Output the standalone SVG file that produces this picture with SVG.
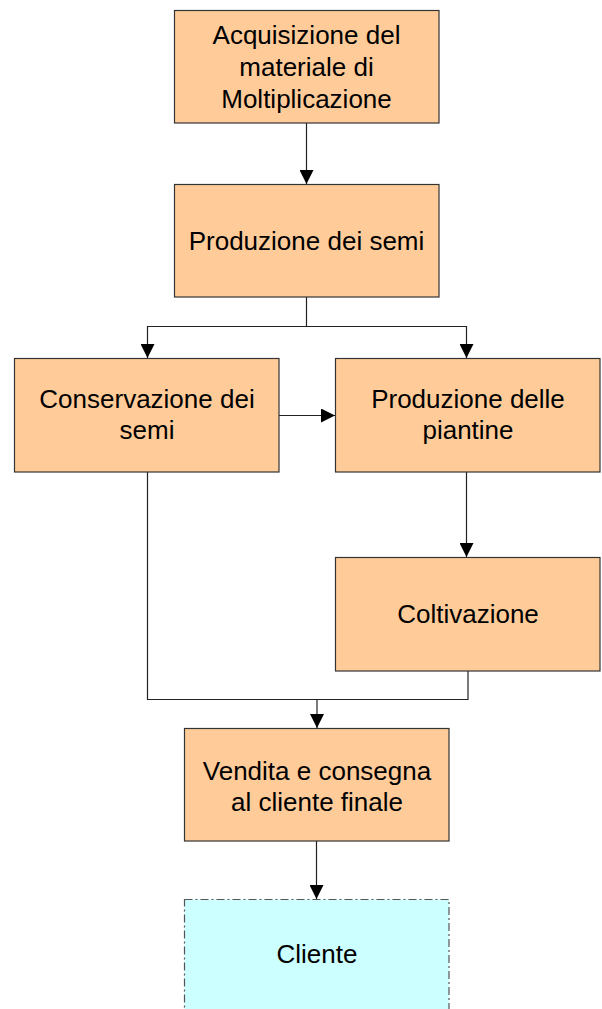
<svg xmlns="http://www.w3.org/2000/svg" width="602" height="1009" viewBox="0 0 602 1009">
<style>
.box{fill:#FFCC99;stroke:#333333;stroke-width:1.2}
.client{fill:#CCFFFF;stroke:#555555;stroke-width:1.2;stroke-dasharray:8,3,2,3}
text{font-family:"Liberation Sans",Arial,sans-serif;font-size:26px;fill:#000;text-anchor:middle}
.conn{fill:none;stroke:#222222;stroke-width:1.2}
</style>
<defs>
<marker id="ah" markerUnits="userSpaceOnUse" markerWidth="14" markerHeight="14" viewBox="0 0 14 14" refX="14" refY="7" orient="auto">
<path d="M0,0 L14,7 L0,14 Z" fill="#000"/>
</marker>
</defs>
<g id="connectors">
<path class="conn" d="M306.5,123 V184" marker-end="url(#ah)"/>
<path class="conn" d="M306.5,297 V326.5 H147.5 V358" marker-end="url(#ah)"/>
<path class="conn" d="M306.5,326.5 H466.5 V358" marker-end="url(#ah)"/>
<path class="conn" d="M279,415.5 H335" marker-end="url(#ah)"/>
<path class="conn" d="M466.5,472 V557" marker-end="url(#ah)"/>
<path class="conn" d="M147.5,472 V699.5 H468 V671"/>
<path class="conn" d="M317,699.5 V728" marker-end="url(#ah)"/>
<path class="conn" d="M316.5,841 V899" marker-end="url(#ah)"/>
</g>
<g id="acquisizione">
<rect class="box" x="174.5" y="10.5" width="264.5" height="112.5"/>
<text x="306.5" y="44">Acquisizione del</text>
<text x="306.5" y="76">materiale di</text>
<text x="306.5" y="108">Moltiplicazione</text>
</g>
<g id="produzione-semi">
<rect class="box" x="174.5" y="184.5" width="264.5" height="112.5"/>
<text x="306.5" y="250">Produzione dei semi</text>
</g>
<g id="conservazione">
<rect class="box" x="14.5" y="358.5" width="264.5" height="113.5"/>
<text x="147" y="408">Conservazione dei</text>
<text x="147" y="439">semi</text>
</g>
<g id="produzione-piantine">
<rect class="box" x="335.5" y="358.5" width="264.5" height="113.5"/>
<text x="468" y="408">Produzione delle</text>
<text x="468" y="439">piantine</text>
</g>
<g id="coltivazione">
<rect class="box" x="335.5" y="557.5" width="264.5" height="113.5"/>
<text x="468" y="623">Coltivazione</text>
</g>
<g id="vendita">
<rect class="box" x="184.5" y="728.5" width="264.5" height="112.5"/>
<text x="317" y="780">Vendita e consegna</text>
<text x="317" y="811">al cliente finale</text>
</g>
<g id="cliente">
<rect class="client" x="184.5" y="899.5" width="264.5" height="115"/>
<text x="317" y="963">Cliente</text>
</g>
</svg>
